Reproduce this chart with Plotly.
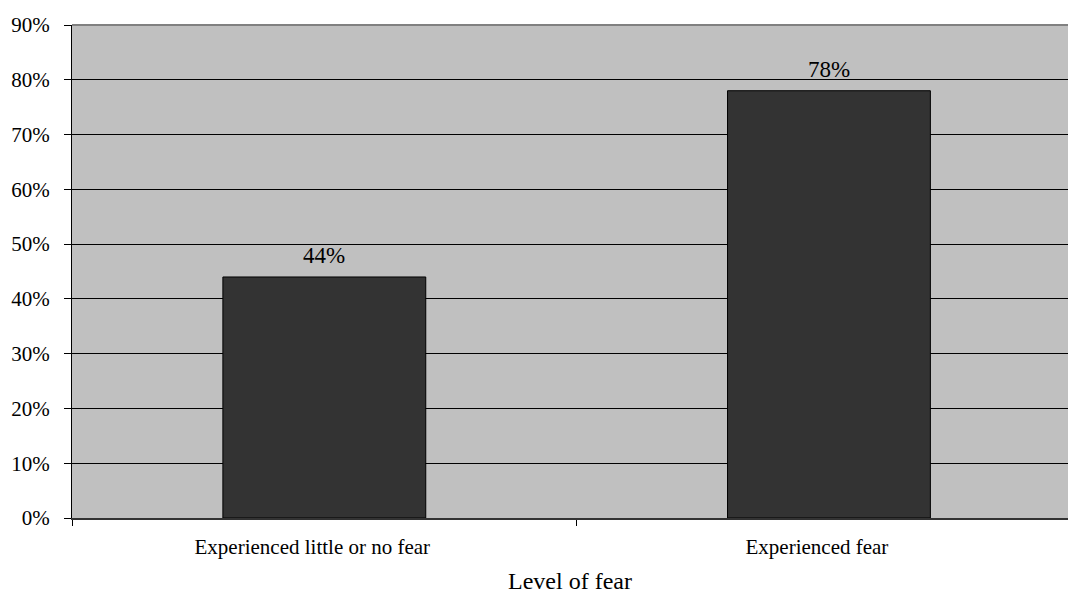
import plotly.graph_objects as go

categories = ["Experienced little or no fear", "Experienced fear"]
values = [0.44, 0.78]
y_ticks = [0, 0.1, 0.2, 0.3, 0.4, 0.5, 0.6, 0.7, 0.8, 0.9]

FONT = "Liberation Serif"

fig = go.Figure()
fig.add_trace(go.Bar(
    x=categories,
    y=values,
    width=0.402,
    marker=dict(color="#333333", line=dict(color="#000000", width=1)),
    hoverinfo="skip",
))

# value labels above each bar
for cat, v in zip(categories, values):
    fig.add_annotation(
        x=cat, y=v, text=f"{round(v * 100)}%",
        showarrow=False, yanchor="bottom", yshift=7,
        font=dict(family=FONT, size=23, color="#000000"),
    )

# grey frame line along the top of the plot area
fig.add_shape(type="line", xref="paper", yref="paper", x0=0, x1=1, y0=1, y1=1,
              line=dict(color="#808080", width=2), layer="above")

fig.update_layout(
    width=1068, height=595,
    margin=dict(l=72, r=0, t=25, b=77),
    paper_bgcolor="#ffffff",
    plot_bgcolor="#c0c0c0",
    showlegend=False,
    font=dict(family=FONT, color="#000000"),
    xaxis=dict(
        type="category",
        range=[-0.5, 1.4737],
        tickson="boundaries",
        ticks="outside", ticklen=6, tickcolor="#000000",
        showline=True, linecolor="#333333", linewidth=2,
        showgrid=False,
        automargin=False,
        tickfont=dict(family=FONT, size=21),
        ticklabelstandoff=9,
        ticklabelshift=-12,
        title=dict(text="Level of fear", font=dict(family=FONT, size=24), standoff=14),
    ),
    yaxis=dict(
        range=[0, 0.9],
        tickvals=y_ticks,
        tickformat=".0%",
        ticks="outside", ticklen=7, tickcolor="#000000",
        showline=True, linecolor="#000000", linewidth=1,
        showgrid=True, gridcolor="#000000", gridwidth=1,
        zeroline=False,
        automargin=False,
        tickfont=dict(family=FONT, size=21),
        ticklabelstandoff=10,
    ),
)

fig.write_html("out.html")
